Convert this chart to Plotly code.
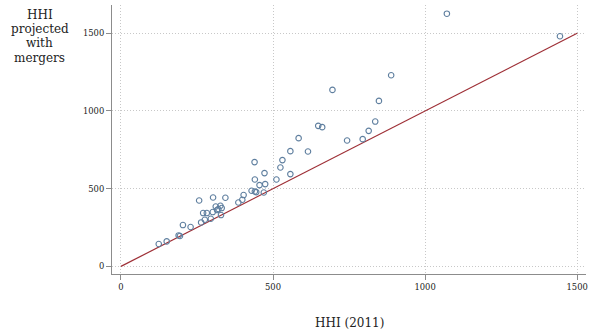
import plotly.graph_objects as go

hhi_2011 = [124.3, 150.5, 189.7, 194.0, 203.8, 229.0, 257.1, 263.6, 270.2, 275.7,
            282.3, 295.4, 302.9, 301.9, 311.7, 316.0, 320.5, 327.1, 329.0, 331.3,
            343.4, 386.0, 399.0, 403.3, 429.5, 439.3, 440.3, 440.3, 444.8, 455.6,
            472.0, 474.3, 469.7, 511.2, 524.3, 530.9, 557.0, 557.0, 584.2, 614.9,
            648.6, 661.7, 695.4, 743.5, 794.8, 814.5, 836.0, 848.2, 888.4, 1071.6,
            1443.4]
hhi_merger = [144.0, 160.7, 199.2, 195.4, 266.0, 253.2, 424.2, 282.8, 343.2, 300.1,
              343.2, 306.6, 443.4, 349.6, 385.6, 362.5, 368.9, 390.1, 330.3, 375.3,
              441.5, 411.3, 428.7, 458.9, 486.5, 671.0, 559.1, 482.0, 478.1, 523.1,
              600.3, 529.6, 475.6, 559.1, 636.2, 683.8, 741.6, 593.8, 825.2, 739.1,
              904.2, 895.9, 1135.6, 809.8, 818.8, 872.1, 931.9, 1064.9, 1230.1, 1626.0,
              1480.7]
line_x = [0, 1500]
line_y = [0, 1500]
ticks = [0, 500, 1000, 1500]
y_title_lines = ["HHI", "projected", "with", "mergers"]
x_title = "HHI (2011)"

FONT = "DejaVu Serif"

fig = go.Figure()
fig.add_trace(go.Scatter(
    x=line_x, y=line_y, mode="lines",
    line=dict(color="#9e2f36", width=1.2), hoverinfo="skip", showlegend=False))
fig.add_trace(go.Scatter(
    x=hhi_2011, y=hhi_merger, mode="markers",
    marker=dict(symbol="circle-open", size=5.5, color="#5f7f9f", line=dict(width=1.1)),
    showlegend=False))

axis_common = dict(
    showline=True, linecolor="#8c8c8c", linewidth=1.2,
    ticks="outside", ticklen=5, tickcolor="#8c8c8c", tickwidth=1,
    showgrid=True, gridcolor="#c8c8c8", griddash="1px,2px", gridwidth=1,
    zeroline=False, tickvals=ticks, ticktext=[str(t) for t in ticks],
    tickfont=dict(family=FONT, size=8.4, color="#222"),
    mirror=False,
)

y_centers = [0.9618, 0.911, 0.860, 0.804]
annotations = [
    dict(text=t, xref="paper", yref="paper", x=-0.1526, y=yc,
         xanchor="center", yanchor="middle", showarrow=False,
         font=dict(family=FONT, size=12, color="#222"))
    for t, yc in zip(y_title_lines, y_centers)
]
annotations.append(
    dict(text=x_title, xref="paper", yref="paper",
         x=0.5, y=-0.181, xanchor="center", yanchor="middle", showarrow=False,
         font=dict(family=FONT, size=12, color="#222")))

fig.update_layout(
    width=590, height=336,
    margin=dict(l=112, r=2, t=5, b=62),
    plot_bgcolor="white", paper_bgcolor="white",
    font=dict(family=FONT, color="#222"),
    xaxis=dict(range=[-29.4, 1529], **axis_common),
    yaxis=dict(range=[-49, 1682], **axis_common),
    annotations=annotations,
)

fig.write_html("out.html", config={"displayModeBar": False},
               post_script="document.body.style.margin='0';document.body.style.padding='0';")
